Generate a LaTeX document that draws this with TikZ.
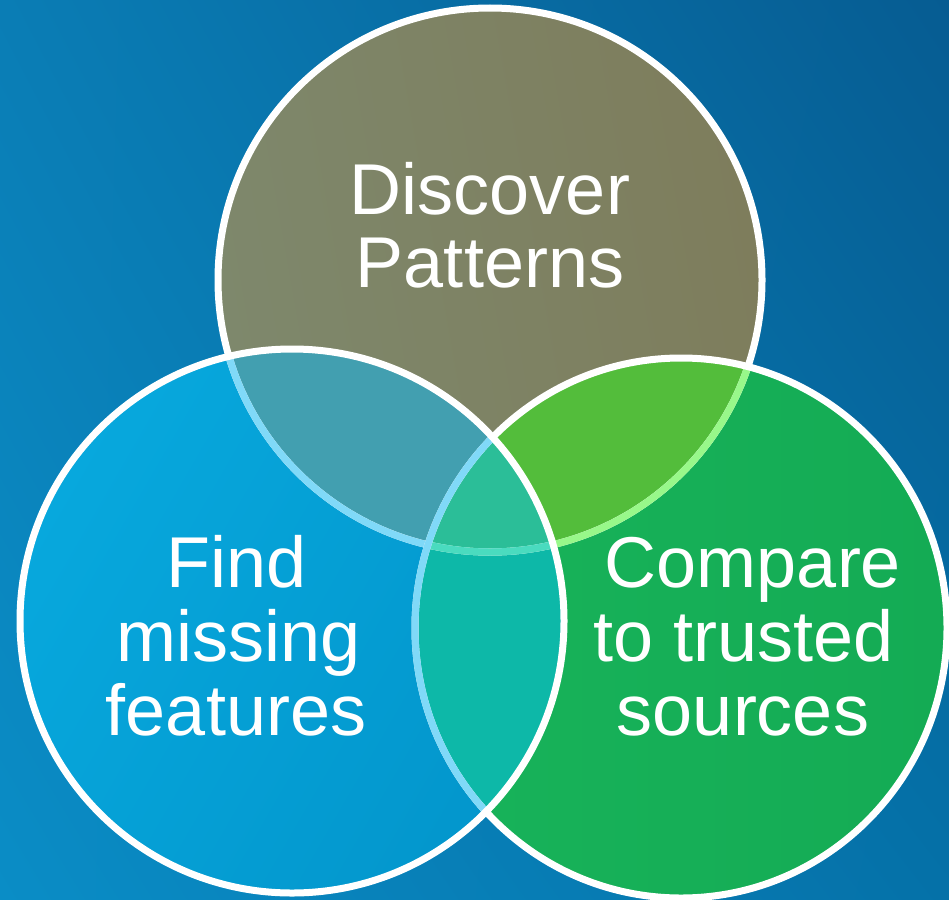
\documentclass[tikz,border=0pt]{standalone}
\usepackage{fontspec}
\setmainfont{Liberation Sans}
\usetikzlibrary{shadings}
\definecolor{bgUL}{HTML}{0A7DB5}
\definecolor{bgUR}{HTML}{065C92}
\definecolor{bgLL}{HTML}{0A8DC6}
\definecolor{bgLR}{HTML}{0571A8}
\definecolor{topL}{HTML}{7E886C}
\definecolor{topR}{HTML}{7E7D5C}
\definecolor{leftA}{HTML}{07A8DD}
\definecolor{leftB}{HTML}{0396CC}
\definecolor{rightA}{HTML}{18B35A}
\definecolor{rightB}{HTML}{14AB54}
\definecolor{tlCol}{HTML}{429FB0}
\definecolor{trCol}{HTML}{53BD3B}
\definecolor{lrCol}{HTML}{0DB8A8}
\definecolor{allCol}{HTML}{2BBE98}
\definecolor{blueLine}{HTML}{80D9F8}
\definecolor{greenLine}{HTML}{98F88A}
\definecolor{tealLine}{HTML}{4ADBBF}
\newcommand\Tpath{(490,280) circle[radius=272pt]}
\newcommand\Lpath{(292,621) circle[radius=272pt]}
\newcommand\Rpath{(681,628) ellipse[x radius=266pt, y radius=270pt]}
\tikzset{
  lbl/.style={text=white, font=\fontsize{72}{74}\selectfont, inner sep=0pt, anchor=base},
  ring/.style={line width=7pt}
}
\begin{document}
\begin{tikzpicture}[x=1pt,y=-1pt]
\useasboundingbox (0,0) rectangle (949,899);
\shade[upper left=bgUL, upper right=bgUR, lower left=bgLL, lower right=bgLR] (0,0) rectangle (949,899);
% fills
\shade[left color=topL, right color=topR, shading angle=100] \Tpath;
\shade[left color=rightA, right color=rightB] \Rpath;
\shade[left color=leftA, right color=leftB, shading angle=60] \Lpath;
\begin{scope}\clip \Tpath; \fill[tlCol] \Lpath; \end{scope}
\begin{scope}\clip \Tpath; \fill[trCol] \Rpath; \end{scope}
\begin{scope}\clip \Lpath; \fill[lrCol] \Rpath; \end{scope}
\begin{scope}\clip \Lpath; \clip \Rpath; \fill[allCol] \Tpath; \end{scope}
% top ring
\draw[ring, white] \Tpath;
\begin{scope}\clip \Rpath; \draw[ring, greenLine] \Tpath; \end{scope}
\begin{scope}\clip \Lpath; \draw[ring, blueLine] \Tpath; \end{scope}
\begin{scope}\clip \Lpath; \clip \Rpath; \draw[ring, tealLine] \Tpath; \end{scope}
% right ring
\draw[ring, white] \Rpath;
\begin{scope}\clip \Lpath; \draw[ring, blueLine] \Rpath; \end{scope}
% left ring
\draw[ring, white] \Lpath;
% labels
\node[lbl] (d1) at (490,214) {Discover};
\node[lbl] (d2) at (490,287) {Patterns};
\node[lbl] (f1) at (237,587) {Find};
\node[lbl] (f2) at (239,661) {missing};
\node[lbl] (f3) at (236,735) {features};
\node[lbl] (c1) at (753,587) {Compare};
\node[lbl] (c2) at (743.5,661) {to trusted};
\node[lbl] (c3) at (743,735) {sources};
\end{tikzpicture}
\end{document}
